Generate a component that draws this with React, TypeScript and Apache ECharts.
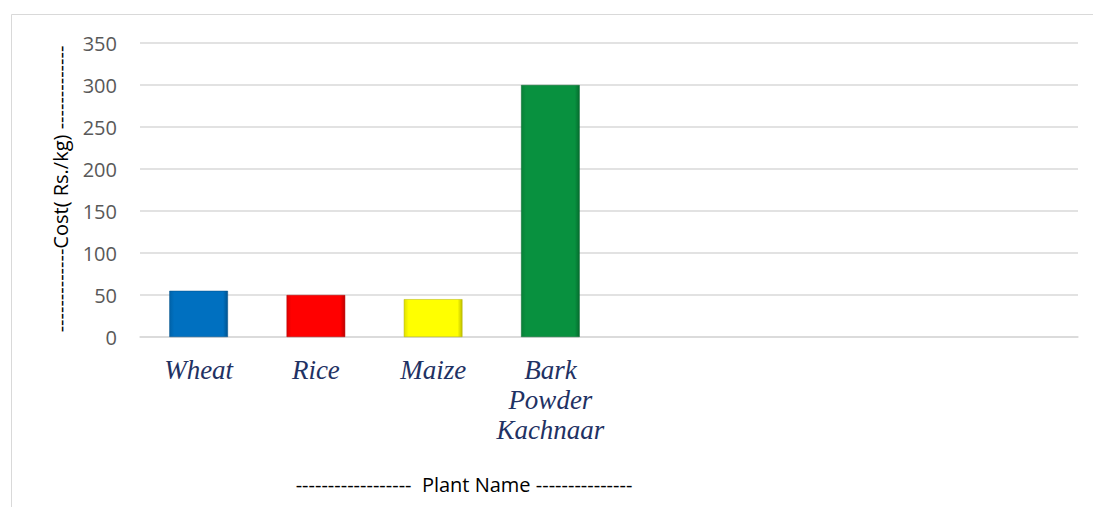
import React, { useEffect, useRef } from "react";
import * as echarts from "echarts";

const categories = ["Wheat", "Rice", "Maize", "Bark\nPowder\nKachnaar", "", "", "", ""];
const values = [55, 50, 45, 300];
const barColors = ["#0070C0", "#FF0000", "#FFFF00", "#08913F"];
const yTicks = { min: 0, max: 350, interval: 50 };
const yTitle = "-------------Cost( Rs./kg) -------------";
const xTitle = "------------------  Plant Name ---------------";

function shade(hex: string, f: number) {
  const n = parseInt(hex.slice(1), 16);
  let r = (n >> 16) & 255, g = (n >> 8) & 255, b = n & 255;
  const m = (c: number) => Math.max(0, Math.min(255, Math.round(f > 0 ? c + (255 - c) * f : c * (1 + f))));
  return `rgb(${m(r)},${m(g)},${m(b)})`;
}

export default function App() {
  const ref = useRef<HTMLDivElement>(null);
  useEffect(() => {
    const chart = echarts.init(ref.current!, undefined, { renderer: "svg" });
    chart.setOption({
      animation: false,
      backgroundColor: "#fff",
      grid: { left: 140, right: 15, top: 43, bottom: 170 },
      xAxis: {
        type: "category",
        data: categories,
        axisLine: { show: true, lineStyle: { color: "#d9d9d9", width: 1.5 } },
        axisTick: { show: false },
        axisLabel: {
          interval: 0,
          margin: 18,
          fontFamily: "Liberation Serif",
          fontStyle: "italic",
          fontSize: 27,
          color: "#1F3264",
          lineHeight: 30,
        },
      },
      yAxis: {
        type: "value",
        min: yTicks.min,
        max: yTicks.max,
        interval: yTicks.interval,
        axisLine: { show: false },
        axisTick: { show: false },
        splitLine: { lineStyle: { color: "#d9d9d9", width: 1.5 } },
        axisLabel: {
          margin: 23,
          fontFamily: "Open Sans",
          fontSize: 20,
          color: "#595959",
        },
      },
      series: [
        {
          type: "bar",
          barWidth: "50%",
          data: values.map((v, i) => ({
            value: v,
            itemStyle: {
              color: {
                type: "linear", x: 0, y: 0, x2: 1, y2: 0,
                colorStops: [
                  { offset: 0, color: shade(barColors[i], -0.12) },
                  { offset: 0.08, color: barColors[i] },
                  { offset: 0.92, color: barColors[i] },
                  { offset: 1, color: shade(barColors[i], -0.25) },
                ],
              },
              borderColor: shade(barColors[i], -0.3),
              borderWidth: 0.5,
            },
          })),
        },
      ],
      graphic: [
        {
          type: "rect",
          shape: { x: 11.5, y: 14.5, width: 1200, height: 600 },
          style: { fill: "none", stroke: "#d9d9d9", lineWidth: 1 },
          silent: true,
        },
        {
          type: "text",
          x: 60,
          y: 189,
          rotation: Math.PI / 2,
          style: {
            text: yTitle,
            fontFamily: "Open Sans",
            fontSize: 20,
            fill: "#000",
            align: "center",
            verticalAlign: "middle",
          },
        },
        {
          type: "text",
          x: 464,
          y: 484,
          style: {
            text: xTitle,
            fontFamily: "Open Sans",
            fontSize: 20,
            fill: "#000",
            align: "center",
            verticalAlign: "middle",
          },
        },
      ],
    });
    return () => chart.dispose();
  }, []);
  return <div ref={ref} style={{ width: 1093, height: 507, position: "absolute", left: 0, top: 0 }} />;
}
